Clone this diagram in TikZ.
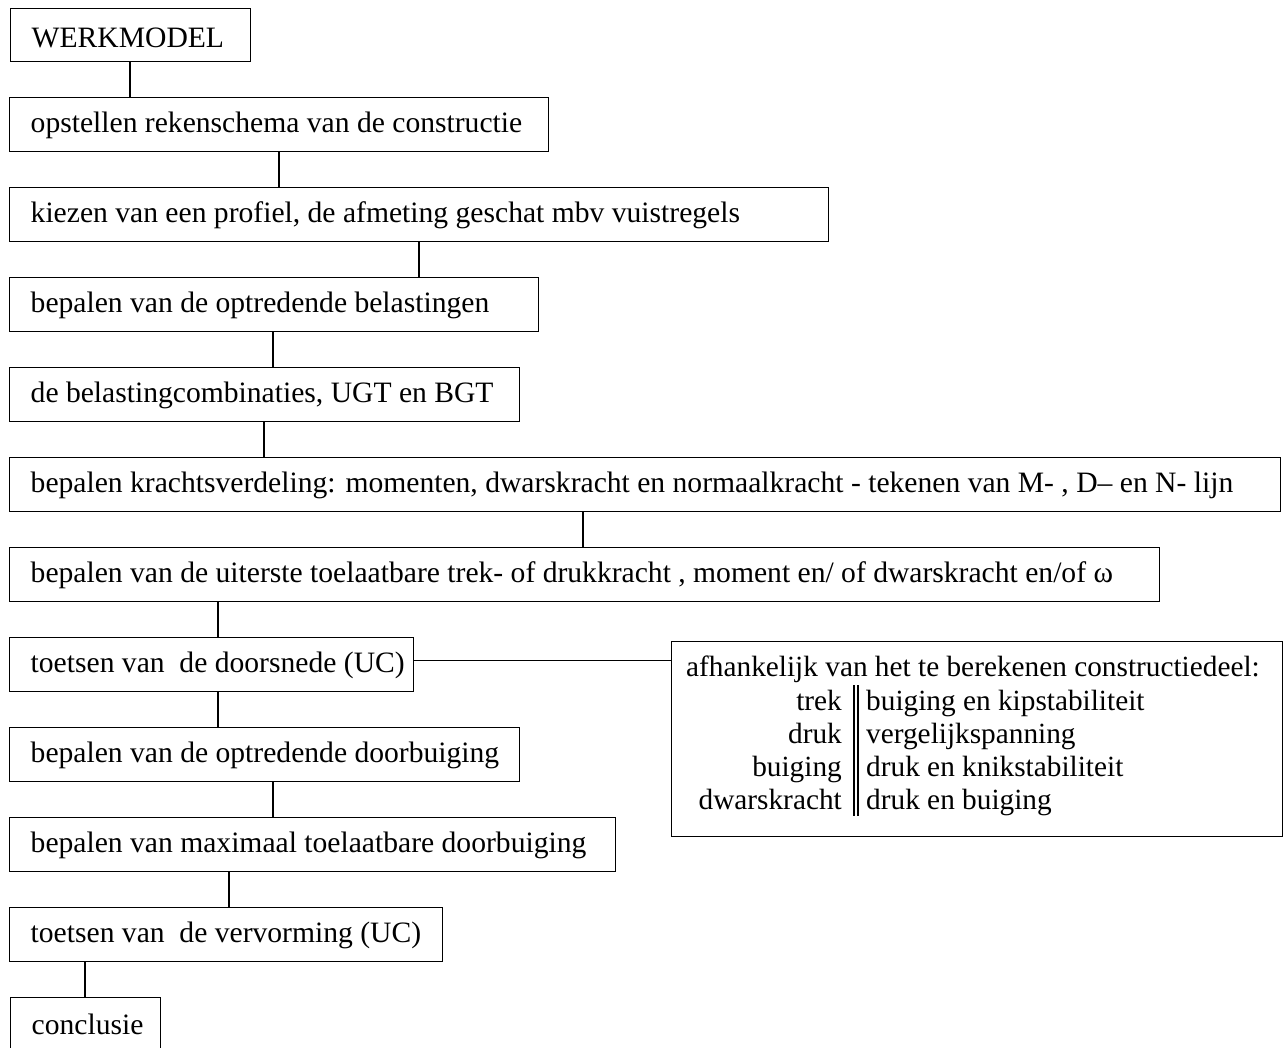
\documentclass[tikz,border=0pt]{standalone}
\usepackage{fontspec}
\setmainfont{Liberation Serif}
\newcommand{\boxtext}[2]{\makebox[#1][l]{#2}}
\begin{document}
\begin{tikzpicture}[x=1pt,y=-1pt,
  box/.style={draw, line width=1.4pt, anchor=north west, minimum height=54pt,
    inner xsep=21pt, inner ysep=0pt, text height=21pt, text depth=5pt,
    font=\fontsize{29.6}{33}\selectfont},
  conn/.style={line width=1.4pt},
  sidetext/.style={inner sep=0pt, font=\fontsize{29.3}{33}\selectfont}]
\useasboundingbox (0,0) rectangle (1285,1047);
\node[box, text height=26pt, text depth=1pt, minimum height=53pt] (b1) at (10,8) {\boxtext{198pt}{WERKMODEL}};
\node[box] (b2) at (9,97) {\boxtext{497pt}{opstellen rekenschema van de constructie}};
\node[box] (b3) at (9,187) {\boxtext{777pt}{kiezen van een profiel, de afmeting geschat mbv vuistregels}};
\node[box] (b4) at (9,277) {\boxtext{487pt}{bepalen van de optredende belastingen}};
\node[box] (b5) at (9,367) {\boxtext{468pt}{de belastingcombinaties, UGT en BGT}};
\node[box] (b6) at (9,457) {\boxtext{1229pt}{bepalen krachtsverdeling: momenten, dwarskracht en normaalkracht - tekenen van M- , D– en N- lijn}};
\node[box] (b7) at (9,547) {\boxtext{1108pt}{bepalen van de uiterste toelaatbare trek- of drukkracht , moment en/ of dwarskracht en/of ω}};
\node[box] (b8) at (9,637) {\boxtext{362pt}{toetsen van\ \ de doorsnede (UC)}};
\node[box] (b9) at (9,727) {\boxtext{468pt}{bepalen van de optredende doorbuiging}};
\node[box] (b10) at (9,817) {\boxtext{564pt}{bepalen van maximaal toelaatbare doorbuiging}};
\node[box] (b11) at (9,907) {\boxtext{391pt}{toetsen van\ \ de vervorming (UC)}};
\node[box, minimum height=58pt, text height=22pt, text depth=6pt] (b12) at (10,997) {\boxtext{108pt}{conclusie}};
% side box
\node[draw, line width=1.4pt, anchor=north west, minimum width=611pt, minimum height=195pt, inner sep=0pt] (side) at (671,641) {};
\node[sidetext, anchor=base west] (s0) at (686,676) {afhankelijk van het te berekenen constructiedeel:};
\node[sidetext, anchor=base east] (l1) at (842,710) {trek};
\node[sidetext, anchor=base east] (l2) at (842,743) {druk};
\node[sidetext, anchor=base east] (l3) at (842,776) {buiging};
\node[sidetext, anchor=base east] (l4) at (842,809) {dwarskracht};
\node[sidetext, anchor=base west] (r1) at (866,710) {buiging en kipstabiliteit};
\node[sidetext, anchor=base west] (r2) at (866,743) {vergelijkspanning};
\node[sidetext, anchor=base west] (r3) at (866,776) {druk en knikstabiliteit};
\node[sidetext, anchor=base west] (r4) at (866,809) {druk en buiging};
\coordinate (dtop) at (854,685);
\coordinate (dbot) at (854,816);
\draw[line width=1.4pt] (dtop) -- (dbot);
\draw[line width=1.4pt] ([xshift=4pt]dtop) -- ([xshift=4pt]dbot);
% connectors
\draw[conn] ([xshift=120pt]b1.south west) -- ([xshift=121pt]b2.north west);
\draw[conn] ([xshift=270pt]b2.south west) -- ([xshift=270pt]b3.north west);
\draw[conn] ([xshift=410pt]b3.south west) -- ([xshift=410pt]b4.north west);
\draw[conn] ([xshift=264pt]b4.south west) -- ([xshift=264pt]b5.north west);
\draw[conn] ([xshift=255pt]b5.south west) -- ([xshift=255pt]b6.north west);
\draw[conn] ([xshift=574pt]b6.south west) -- ([xshift=574pt]b7.north west);
\draw[conn] ([xshift=209pt]b7.south west) -- ([xshift=209pt]b8.north west);
\draw[conn] ([xshift=209pt]b8.south west) -- ([xshift=209pt]b9.north west);
\draw[conn] ([xshift=264pt]b9.south west) -- ([xshift=264pt]b10.north west);
\draw[conn] ([xshift=220pt]b10.south west) -- ([xshift=220pt]b11.north west);
\draw[conn] ([xshift=76pt]b11.south west) -- ([xshift=75pt]b12.north west);
\coordinate (h1) at ([yshift=4pt]b8.east);
\draw[conn] (h1) -- (side.west |- h1);
\end{tikzpicture}
\end{document}
